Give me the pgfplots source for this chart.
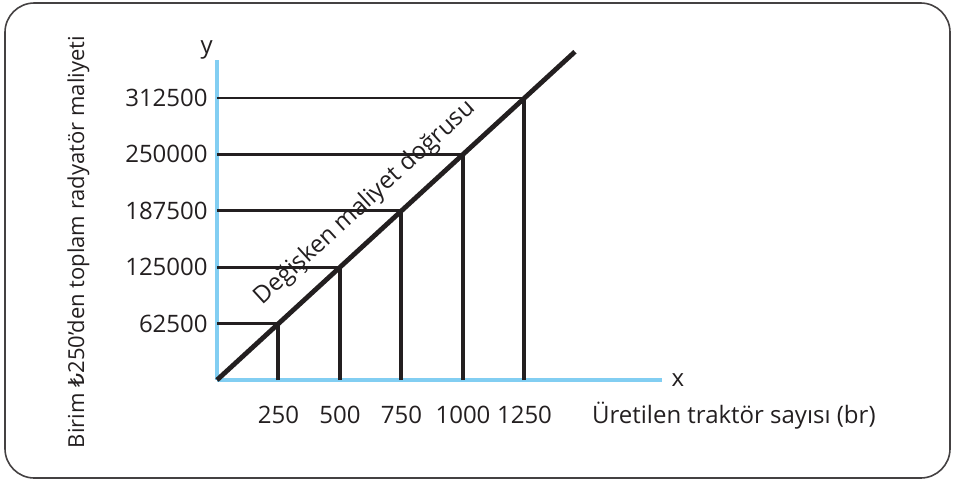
\documentclass[border=0pt]{standalone}
\usepackage{fontspec}
\setmainfont{Open Sans}
\newfontfamily\lirafont{DejaVu Sans}
\usepackage{pgfplots}
\pgfplotsset{compat=1.18}
\definecolor{axblue}{RGB}{130,206,242}
\definecolor{ink}{RGB}{35,31,32}
\begin{document}
\begin{tikzpicture}
\useasboundingbox (-162.75pt,-77.25pt) rectangle (553.5pt,285pt);
\draw[ink!85, line width=1.2pt, rounded corners=22pt] (-159pt,-73.5pt) rectangle (549.75pt,282.75pt);
\begin{axis}[
  at={(0pt,0pt)}, anchor=origin,
  scale only axis, width=333.75pt, height=240pt,
  xmin=0, xmax=1809, ymin=0, ymax=354600,
  axis x line=bottom, axis y line=left,
  axis line style={axblue, line width=2.6pt, -},
  clip=false,
  scaled x ticks=false, scaled y ticks=false,
  xtick={250,500,750,1000,1250},
  xticklabels={250,500,750,1000,1250},
  ytick={62500,125000,187500,250000,312500},
  yticklabels={62500,125000,187500,250000,312500},
  major tick length=0pt, tick style={draw=none},
  xticklabel style={anchor=base, yshift=-32.5pt},
  yticklabel style={anchor=east, xshift=-3.5pt},
  font=\fontsize{18}{21}\selectfont,
  every tick label/.append style={text=ink},
]
\addplot[ink, line width=2.2pt] coordinates {(0,62500) (250,62500)};
\addplot[ink, line width=2.2pt] coordinates {(0,125000) (500,125000)};
\addplot[ink, line width=2.2pt] coordinates {(0,187500) (750,187500)};
\addplot[ink, line width=2.2pt] coordinates {(0,250000) (1000,250000)};
\addplot[ink, line width=2.2pt] coordinates {(0,312500) (1250,312500)};
\addplot[ink, line width=3pt] coordinates {(250,0) (250,62500)};
\addplot[ink, line width=3pt] coordinates {(500,0) (500,125000)};
\addplot[ink, line width=3pt] coordinates {(750,0) (750,187500)};
\addplot[ink, line width=3pt] coordinates {(1000,0) (1000,250000)};
\addplot[ink, line width=3pt] coordinates {(1250,0) (1250,312500)};
\addplot[ink, line width=3.6pt] coordinates {(0,0) (1455,363750)};
\node[anchor=south east, text=ink, inner sep=0pt, xshift=-3pt] at (axis cs:0,354600) {y};
\node[anchor=west, text=ink, inner sep=1pt, xshift=6pt] at (axis cs:1809,0) {x};
\node[anchor=base west, text=ink, inner sep=0pt, yshift=-32.5pt] at (axis cs:1524,0) {Üretilen traktör sayısı (br)};
\node[rotate=42.5, text=ink, inner sep=0pt] at (axis cs:603,196000) {Değişken maliyet doğrusu};
\end{axis}
\node[rotate=90, text=ink, inner sep=0pt, font=\fontsize{16.5}{19}\selectfont] at (-104pt,103.5pt) {Birim {\lirafont ₺}250’den toplam radyatör maliyeti};
\end{tikzpicture}
\end{document}
